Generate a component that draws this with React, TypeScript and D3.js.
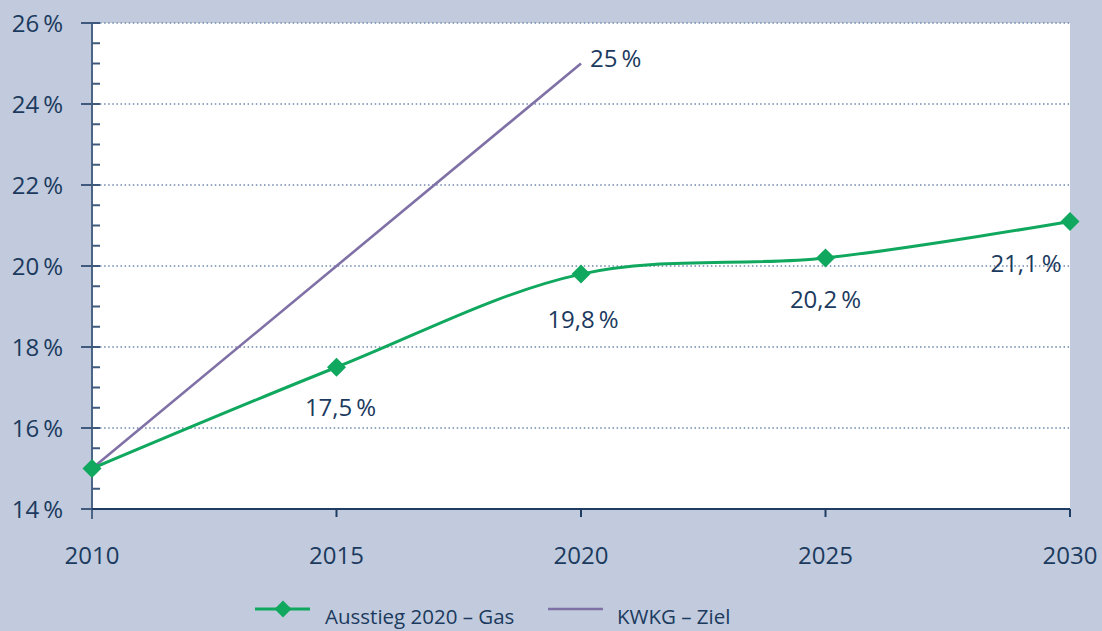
import React from 'react';
import * as d3 from 'd3';

const years = [2010, 2015, 2020, 2025, 2030];
const gasValues = [15, 17.5, 19.8, 20.2, 21.1];
const gasLabels = ['', '17,5\u2009%', '19,8\u2009%', '20,2\u2009%', '21,1\u2009%'];
const kwkgYears = [2010, 2020];
const kwkgValues = [15, 25];
const yTicks = [14, 16, 18, 20, 22, 24, 26];
const seriesNames = ['Ausstieg 2020 \u2013 Gas', 'KWKG \u2013 Ziel'];

const W = 1102;
const H = 631;
const margin = { top: 23, right: 32, bottom: 122, left: 92 };
const BG = '#c1cbdd';
const TEXT = '#1b3a5e';
const GREEN = '#10a85e';
const PURPLE = '#7f70a6';
const FONT = '"Open Sans", "Noto Sans", sans-serif';

const App = () => {
  const x = d3.scaleLinear().domain([2010, 2030]).range([margin.left, W - margin.right]);
  const y = d3.scaleLinear().domain([14, 26]).range([H - margin.bottom, margin.top]);
  const y0 = y(14);

  const gasLine = d3.line<number>()
    .x((_, i) => x(years[i]))
    .y(d => y(d))
    .curve(d3.curveCatmullRom.alpha(0.5));

  const kwkgLine = d3.line<number>()
    .x((_, i) => x(kwkgYears[i]))
    .y(d => y(d));

  const minorTicks = d3.range(14, 26.01, 0.5).filter(v => !yTicks.includes(v));

  // label offsets relative to the point
  const labelPos = [null, [4, 49], [2, 54], [0, 50], [-44, 51]];

  const diamond = (cx, cy, r) => `M${cx},${cy - r}L${cx + r},${cy}L${cx},${cy + r}L${cx - r},${cy}Z`;

  return (
    <svg width={W} height={H} style={{ position: 'fixed', left: 0, top: 0, background: BG, fontFamily: FONT }}>
      <rect x={margin.left} y={margin.top} width={W - margin.right - margin.left} height={y0 - margin.top} fill="#fff" />

      {yTicks.slice(1).map(t => (
        <line key={t} x1={margin.left + 8} x2={W - margin.right} y1={y(t)} y2={y(t)}
          stroke="#6f88ad" strokeWidth={1.3} strokeDasharray="1.5 2.6" />
      ))}

      {/* y axis */}
      <line x1={margin.left} x2={margin.left} y1={margin.top - 1} y2={y0 + 10} stroke="#4b6587" strokeWidth={2} />
      {yTicks.map(t => (
        <g key={t}>
          <line x1={margin.left - 11} x2={margin.left + 8} y1={y(t)} y2={y(t)} stroke="#3f5a7c" strokeWidth={2} />
          <text x={63} y={y(t)} dy="0.36em" textAnchor="end" fontSize={24} fill={TEXT}>{`${t}\u2009%`}</text>
        </g>
      ))}
      {minorTicks.map(t => (
        <line key={t} x1={margin.left} x2={margin.left + 8} y1={y(t)} y2={y(t)} stroke="#3f5a7c" strokeWidth={2} />
      ))}

      {/* x axis */}
      <line x1={margin.left} x2={W - margin.right} y1={y0} y2={y0} stroke="#1f3d62" strokeWidth={2} />
      {years.map(t => (
        <g key={t}>
          {t > 2010 && <line x1={x(t)} x2={x(t)} y1={y0} y2={y0 + 8} stroke="#1f3d62" strokeWidth={2} />}
          <text x={x(t)} y={564} textAnchor="middle" fontSize={24} fill={TEXT}>{t}</text>
        </g>
      ))}

      {/* KWKG target */}
      <path d={kwkgLine(kwkgValues)} fill="none" stroke={PURPLE} strokeWidth={2.6} />
      <text x={x(kwkgYears[1]) + 9} y={y(kwkgValues[1]) + 3} fontSize={24} fill={TEXT}>{`${kwkgValues[1]}\u2009%`}</text>

      {/* Gas series */}
      <path d={gasLine(gasValues)} fill="none" stroke={GREEN} strokeWidth={3} />
      {gasValues.map((v, i) => (
        <path key={i} d={diamond(x(years[i]), y(v), 9.5)} fill={GREEN} />
      ))}
      {gasValues.map((v, i) => labelPos[i] && (
        <text key={i} x={x(years[i]) + labelPos[i][0]} y={y(v) + labelPos[i][1]} textAnchor="middle" fontSize={24} fill={TEXT}>
          {gasLabels[i]}
        </text>
      ))}

      {/* legend */}
      <line x1={255} x2={310} y1={609} y2={609} stroke={GREEN} strokeWidth={3} />
      <path d={diamond(283, 609, 8.5)} fill={GREEN} />
      <text x={325} y={624} fontSize={20.5} fill={TEXT}>{seriesNames[0]}</text>
      <line x1={548} x2={603} y1={609} y2={609} stroke={PURPLE} strokeWidth={2.6} />
      <text x={617} y={624} fontSize={20.5} fill={TEXT}>{seriesNames[1]}</text>
    </svg>
  );
};

export default App;
